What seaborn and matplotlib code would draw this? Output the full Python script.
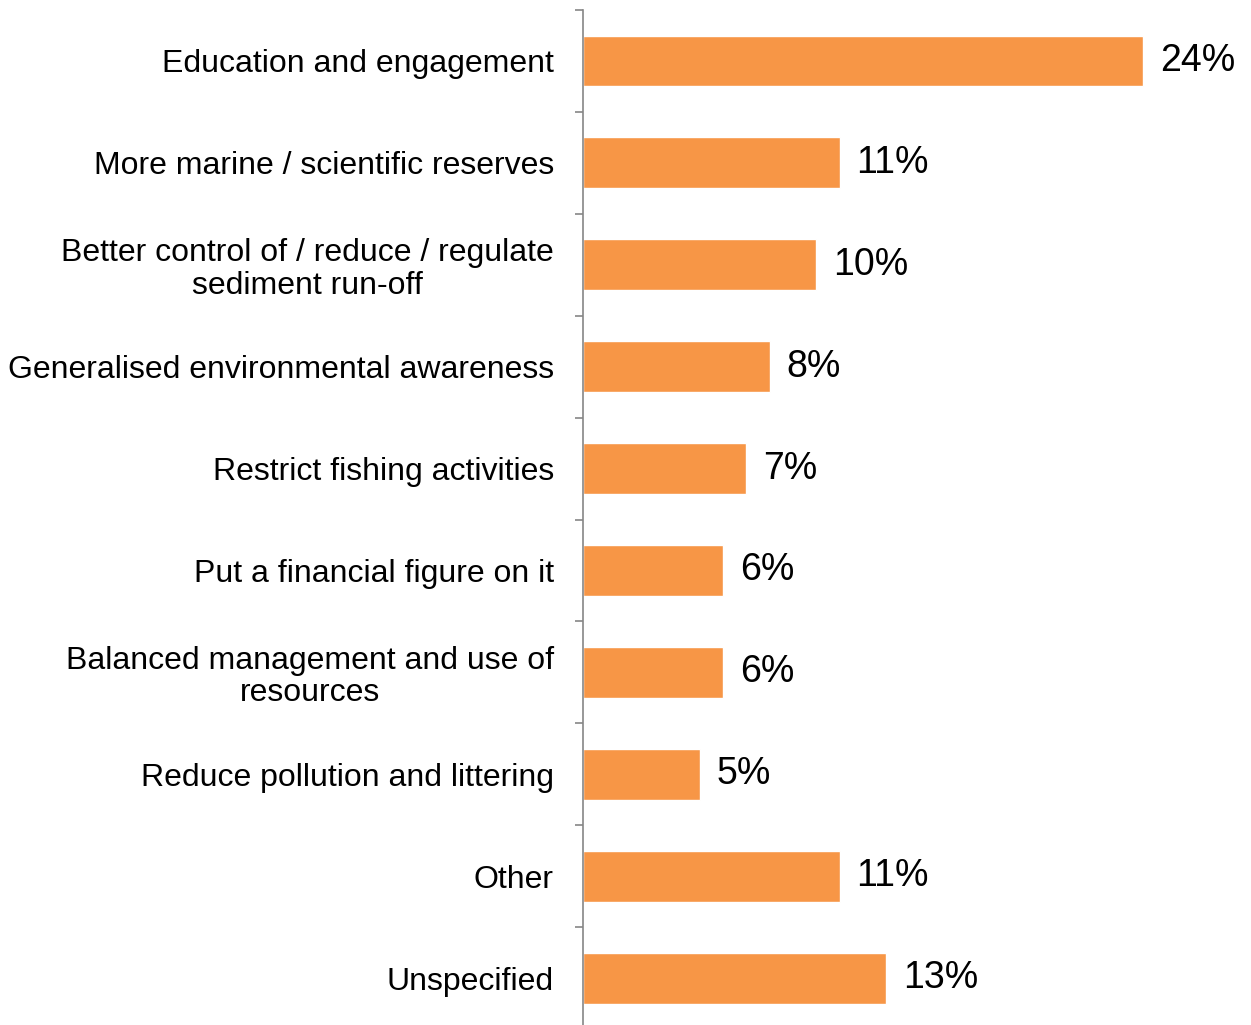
import matplotlib
matplotlib.use('Agg')
import matplotlib.pyplot as plt
import seaborn as sns
import pandas as pd
import numpy as np

categories = [
    'Education and engagement',
    'More marine / scientific reserves',
    'Better control of / reduce / regulate\nsediment run-off',
    'Generalised environmental awareness',
    'Restrict fishing activities',
    'Put a financial figure on it',
    'Balanced management and use of\nresources',
    'Reduce pollution and littering',
    'Other',
    'Unspecified',
]
values = [24, 11, 10, 8, 7, 6, 6, 5, 11, 13]

df = pd.DataFrame({'category': categories, 'pct': values})

sns.set_style('white')
plt.rcParams['font.family'] = ['Liberation Sans', 'DejaVu Sans']

fig = plt.figure(figsize=(12.51, 10.25), dpi=100)
ax = fig.add_axes([583 / 1251, -0.0039, 1 - 583 / 1251, 0.9941])

sns.barplot(data=df, y='category', x='pct', orient='h', color='#F79646',
            width=0.5, saturation=1, ax=ax)

ax.set_xlim(0, 28.63)
ax.set_ylim(len(categories) - 0.5, -0.5)

# value labels
ax.bar_label(ax.containers[0], labels=[f'{v}%' for v in values],
             padding=12, fontsize=27, color='black')

# spines
for s in ['top', 'right', 'bottom']:
    ax.spines[s].set_visible(False)
ax.spines['left'].set_color('#868686')
ax.spines['left'].set_linewidth(1.2)

ax.set_xticks([])
ax.set_xlabel('')
ax.set_ylabel('')

# ticks at the category boundaries, labels in between
ax.set_yticks(np.arange(-0.5, len(categories), 1), minor=True)
ax.tick_params(axis='y', which='minor', length=6, width=1.2, color='#868686', left=True)
ax.tick_params(axis='y', which='major', length=0, pad=21, labelsize=23, labelcolor='black')
for lbl in ax.get_yticklabels():
    lbl.set_multialignment('center')
    lbl.set_linespacing(1.1)

fig.savefig('out.png', dpi=100)
